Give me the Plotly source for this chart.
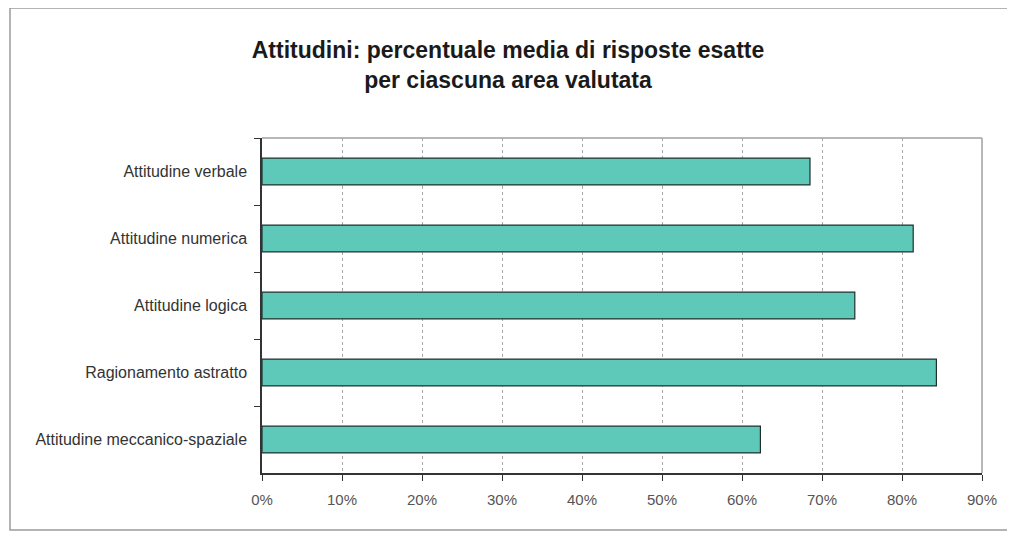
import plotly.graph_objects as go

categories = [
    "Attitudine verbale",
    "Attitudine numerica",
    "Attitudine logica",
    "Ragionamento astratto",
    "Attitudine meccanico-spaziale",
]
values = [0.685, 0.814, 0.741, 0.843, 0.623]
tick_vals = [0, 0.1, 0.2, 0.3, 0.4, 0.5, 0.6, 0.7, 0.8, 0.9]
tick_text = ["0%", "10%", "20%", "30%", "40%", "50%", "60%", "70%", "80%", "90%"]
title_text = "<b>Attitudini: percentuale media di risposte esatte<br>per ciascuna area valutata</b>"

W, H = 1015, 533
L, R, T, B = 254, 41, 130, 68
pw, ph = W - L - R, H - T - B

def px_x(x):
    return (x - L) / pw

def px_y(y):
    return (H - B - y) / ph

fig = go.Figure(
    go.Bar(
        x=values,
        y=categories,
        orientation="h",
        marker=dict(color="#5ec8b9", line=dict(color="#22302d", width=1.2)),
        hoverinfo="x+y",
    )
)

fig.update_layout(
    width=W,
    height=H,
    margin=dict(l=L, r=R, t=T, b=B),
    paper_bgcolor="white",
    plot_bgcolor="white",
    showlegend=False,
    bargap=0.6,
    font=dict(family="Liberation Sans, Arial, sans-serif", color="#333333"),
    title=dict(
        text=title_text,
        x=500 / W,
        xref="container",
        xanchor="center",
        y=1 - 50 / H,
        yref="container",
        yanchor="top",
        font=dict(size=23, color="#1a1a1a", family="Liberation Sans, Arial, sans-serif"),
    ),
    xaxis=dict(
        range=[0, 0.9],
        tickvals=tick_vals,
        ticktext=tick_text,
        showgrid=True,
        gridcolor="#a8a8a8",
        griddash="3px,3px",
        gridwidth=1,
        zeroline=False,
        showline=True,
        linecolor="#333333",
        linewidth=1.5,
        ticks="outside",
        ticklen=6,
        tickcolor="#333333",
        tickfont=dict(size=15, color="#555555"),
        ticklabelstandoff=6,
        fixedrange=True,
    ),
    yaxis=dict(
        categoryorder="array",
        categoryarray=categories,
        autorange="reversed",
        showgrid=False,
        zeroline=False,
        showline=True,
        linecolor="#333333",
        linewidth=1.5,
        ticks="outside",
        tickson="boundaries",
        ticklen=6,
        tickcolor="#333333",
        tickfont=dict(size=16, color="#333333"),
        ticklabelstandoff=10,
        fixedrange=True,
    ),
    shapes=[
        dict(type="line", xref="paper", yref="paper", x0=0, x1=1, y0=1, y1=1,
             line=dict(color="#a0a0a0", width=1.5)),
        dict(type="line", xref="paper", yref="paper", x0=1, x1=1, y0=0, y1=1,
             line=dict(color="#a0a0a0", width=1.5)),
        dict(type="rect", xref="paper", yref="paper",
             x0=px_x(2), x1=px_x(1003), y0=px_y(522), y1=px_y(0),
             line=dict(color="#9a9a9a", width=1.5), layer="below"),
    ],
)

fig.write_html("out.html")
